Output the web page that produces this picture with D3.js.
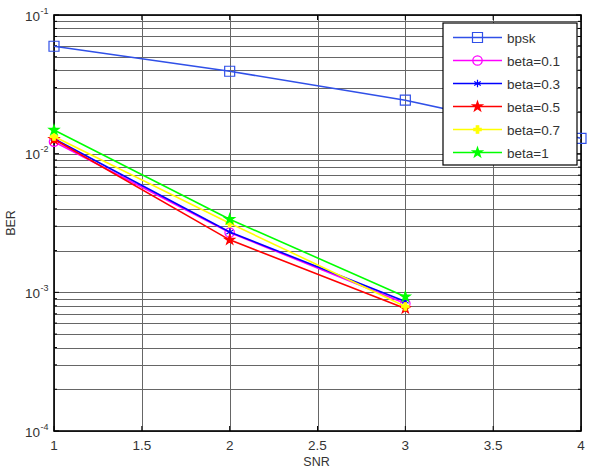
<!DOCTYPE html>
<html>
<head>
<meta charset="utf-8">
<script src="https://cdn.jsdelivr.net/npm/d3@7"></script>
<style>
body { margin: 0; background: #fff; }
text { font-family: "Liberation Sans", Arial, sans-serif; }
</style>
</head>
<body>
<div class="chart"></div>
<script>
var margin = {top: 15, right: 8, bottom: 37, left: 54},
    width = 589,
    height = 468

var snr = [1, 2, 3, 4]
var bpsk = [0.0595, 0.0393, 0.0243, 0.0129]
var beta01 = [0.0122, 0.0027, 0.00083]
var beta03 = [0.0128, 0.00272, 0.00086]
var beta05 = [0.0127, 0.00239, 0.000765]
var beta07 = [0.0133, 0.00315, 0.00079]
var beta1 = [0.0148, 0.00337, 0.00093]
var xTicks = [1, 1.5, 2, 2.5, 3, 3.5, 4]
var yDecades = [-4, -3, -2, -1]

var series = [
  {name: "bpsk", values: bpsk, color: "#3050e8", marker: "square"},
  {name: "beta=0.1", values: beta01, color: "#ff00ff", marker: "circle"},
  {name: "beta=0.3", values: beta03, color: "#0000ff", marker: "asterisk"},
  {name: "beta=0.5", values: beta05, color: "#ff0000", marker: "star"},
  {name: "beta=0.7", values: beta07, color: "#ffff00", marker: "plus"},
  {name: "beta=1", values: beta1, color: "#00ff00", marker: "hex"}
]

var svg = d3.select(".chart")
  .append("svg")
  .attr("width", width)
  .attr("height", height)

var x = d3.scaleLinear()
  .domain([1, 4])
  .range([margin.left, width - margin.right]);

var y = d3.scaleLog()
  .domain([1e-4, 1e-1])
  .range([height - margin.bottom, margin.top]);

var x0 = x.range()[0], x1 = x.range()[1],
    y0 = y.range()[0], y1 = y.range()[1]

// minor + major log grid
var yGrid = []
yDecades.forEach(function(e) {
  if (e == -1) { yGrid.push(Math.pow(10, e)); return; }
  for (var m = 1; m <= 9; m++) yGrid.push(m * Math.pow(10, e))
})

var grid = svg.append("g").attr("class", "grid")
grid.selectAll(".hg")
  .data(yGrid)
  .enter().append("line")
  .attr("x1", x0).attr("x2", x1)
  .attr("y1", function(d) { return Math.round(y(d)) + 0.5; })
  .attr("y2", function(d) { return Math.round(y(d)) + 0.5; })
  .attr("stroke", "#666")
  .attr("stroke-width", 1)

grid.selectAll(".vg")
  .data(xTicks)
  .enter().append("line")
  .attr("x1", function(d) { return Math.round(x(d)) + 0.5; })
  .attr("x2", function(d) { return Math.round(x(d)) + 0.5; })
  .attr("y1", y0).attr("y2", y1)
  .attr("stroke", "#666")
  .attr("stroke-width", 1)

// tick marks, inside on all four sides
var ticks = svg.append("g").attr("class", "ticks")
yGrid.forEach(function(d) {
  var len = (Math.abs(Math.log10(d) % 1) < 1e-9) ? 5 : 3
  ticks.append("line").attr("x1", x0).attr("x2", x0 + len)
    .attr("y1", y(d)).attr("y2", y(d)).attr("stroke", "#000")
  ticks.append("line").attr("x1", x1).attr("x2", x1 - len)
    .attr("y1", y(d)).attr("y2", y(d)).attr("stroke", "#000")
})
xTicks.forEach(function(d) {
  ticks.append("line").attr("x1", x(d)).attr("x2", x(d))
    .attr("y1", y0).attr("y2", y0 - 5).attr("stroke", "#000")
  ticks.append("line").attr("x1", x(d)).attr("x2", x(d))
    .attr("y1", y1).attr("y2", y1 + 5).attr("stroke", "#000")
})

svg.append("rect")
  .attr("x", x0).attr("y", y1)
  .attr("width", x1 - x0).attr("height", y0 - y1)
  .attr("fill", "none")
  .attr("stroke", "#000")
  .attr("stroke-width", 1.6)

// tick labels
svg.selectAll(".xl")
  .data(xTicks)
  .enter().append("text")
  .attr("x", function(d) { return x(d); })
  .attr("y", y0 + 19)
  .attr("text-anchor", "middle")
  .attr("font-size", 13.5)
  .attr("fill", "#333")
  .text(function(d) { return d; })

var yl = svg.selectAll(".yl")
  .data(yDecades)
  .enter().append("g")
  .attr("transform", function(d) { return "translate(0," + y(Math.pow(10, d)) + ")"; })
yl.append("text")
  .attr("x", 40).attr("y", 5.5)
  .attr("text-anchor", "end")
  .attr("font-size", 13.5)
  .attr("fill", "#333")
  .text("10")
yl.append("text")
  .attr("x", 40.5).attr("y", -1.5)
  .attr("font-size", 9)
  .attr("fill", "#333")
  .text(function(d) { return "-" + (-d); })

svg.append("text")
  .attr("x", (x0 + x1) / 2 - 1).attr("y", y0 + 35)
  .attr("text-anchor", "middle")
  .attr("font-size", 12.5)
  .attr("fill", "#333")
  .text("SNR")

svg.append("text")
  .attr("transform", "translate(15," + ((y0 + y1) / 2) + ") rotate(-90)")
  .attr("text-anchor", "middle")
  .attr("font-size", 12.5)
  .attr("fill", "#333")
  .text("BER")

var line = d3.line()
  .x(function(d, i) { return x(snr[i]); })
  .y(function(d) { return y(d); })

function markerType(m) {
  if (m == "square") return d3.symbolSquare
  if (m == "circle") return d3.symbolCircle
  if (m == "asterisk") return d3.symbolAsterisk
  if (m == "star") return d3.symbolStar
  if (m == "hex") return d3.symbolStar
  return d3.symbolCross
}
function markerSize(m) {
  if (m == "square") return 100
  if (m == "circle") return 70
  if (m == "asterisk") return 40
  if (m == "plus") return 30
  return 30
}
function drawMarker(g, s, px, py) {
  var filled = s.marker != "square" && s.marker != "circle"
  g.append("path")
    .attr("transform", "translate(" + px + "," + py + ")")
    .attr("d", d3.symbol().type(markerType(s.marker)).size(markerSize(s.marker)))
    .attr("fill", filled ? s.color : "none")
    .attr("stroke", s.color)
    .attr("stroke-width", 1.2)
}

var lines = svg.append("g").attr("class", "lines")
series.forEach(function(s) {
  var g = lines.append("g")
  g.append("path")
    .datum(s.values)
    .attr("d", line)
    .attr("fill", "none")
    .attr("stroke", s.color)
    .attr("stroke-width", 1.6)
  s.values.forEach(function(v, i) {
    drawMarker(g, s, x(snr[i]), y(v))
  })
})

// legend
var lx = 443, ly = 23, lw = 134, lh = 142
var legend = svg.append("g").attr("class", "legend")
legend.append("rect")
  .attr("x", lx).attr("y", ly)
  .attr("width", lw).attr("height", lh)
  .attr("fill", "#fff")
  .attr("stroke", "#000")
  .attr("stroke-width", 1.2)

series.forEach(function(s, i) {
  var ry = ly + 14.5 + i * 23
  legend.append("line")
    .attr("x1", lx + 10).attr("x2", lx + 59)
    .attr("y1", ry).attr("y2", ry)
    .attr("stroke", s.color)
    .attr("stroke-width", 1.5)
  drawMarker(legend, s, lx + 34.5, ry)
  legend.append("text")
    .attr("x", lx + 64).attr("y", ry + 5)
    .attr("font-size", 13.5)
    .attr("fill", "#333")
    .text(s.name)
})
</script>
</body>
</html>
